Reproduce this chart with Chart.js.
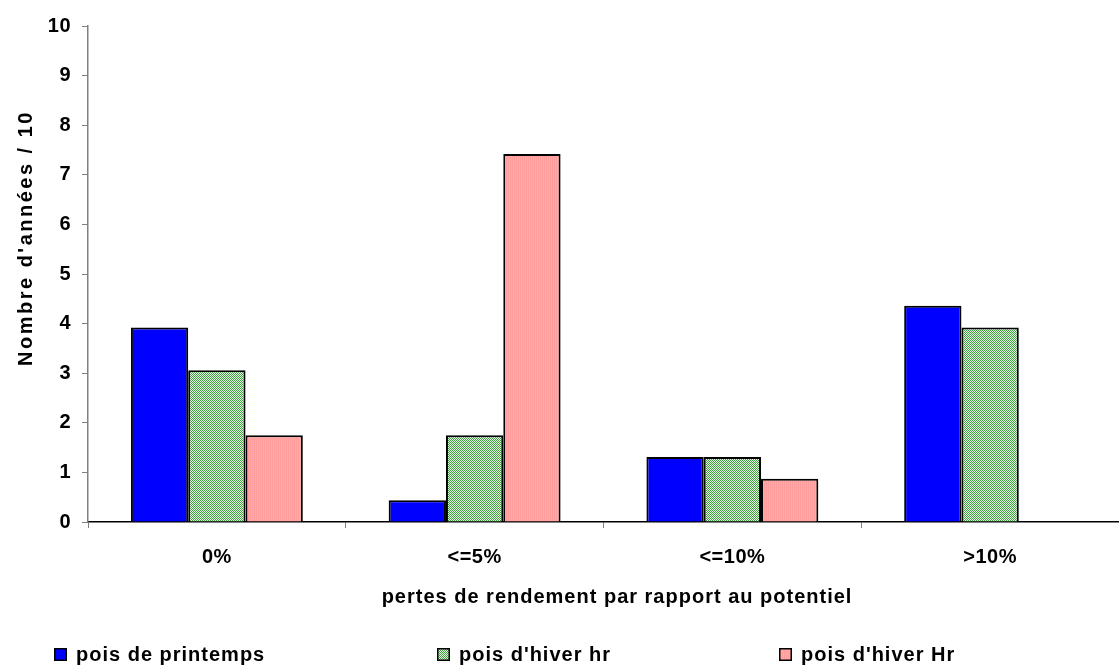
<!DOCTYPE html>
<html>
<head>
<meta charset="utf-8">
<script src="https://cdn.jsdelivr.net/npm/chart.js@4.4.1/dist/chart.umd.min.js"></script>
<style>
  html, body { margin: 0; padding: 0; background: #fff; }
  #wrap { width: 1119px; height: 669px; position: relative; }
</style>
</head>
<body>
<div id="wrap"><canvas id="chart"></canvas></div>
<script>
// data
const categories = ["0%", "<=5%", "<=10%", ">10%"];
const seriesNames = ["pois de printemps", "pois d'hiver hr", "pois d'hiver Hr"];
const printemps = [3.92, 0.44, 1.31, 4.36];
const hiverLow = [3.06, 1.75, 1.31, 3.92];
const hiverHigh = [1.75, 7.42, 0.87, null];
const yMin = 0, yMax = 10, yStep = 1;
const yTitle = "Nombre d'années / 10";
const xTitle = "pertes de rendement par rapport au potentiel";

const FONT = '"Liberation Sans", Arial, sans-serif';
const canvas = document.getElementById("chart");
const ctx = canvas.getContext("2d");

function makePattern(w, h, paint) {
  const c = document.createElement("canvas");
  c.width = w; c.height = h;
  paint(c.getContext("2d"));
  return ctx.createPattern(c, "repeat");
}

// green checker (Excel "50%" pattern)
const greenFill = makePattern(2, 2, g => {
  g.fillStyle = "#e6f7e6"; g.fillRect(0, 0, 2, 2);
  g.fillStyle = "#3f9f3f"; g.fillRect(0, 0, 1, 1); g.fillRect(1, 1, 1, 1);
});
// pink with light vertical stripes
const pinkFill = makePattern(2, 1, g => {
  g.fillStyle = "#ff9c9c"; g.fillRect(0, 0, 1, 1);
  g.fillStyle = "#ffaaaa"; g.fillRect(1, 0, 1, 1);
});

const legendX = [54, 437, 779];

const decor = {
  id: "decor",
  beforeUpdate(chart) { chart.ctx.letterSpacing = "0.5px"; },
  beforeDraw(chart) { chart.ctx.letterSpacing = "0.5px"; },
  afterDraw(chart) {
    const c = chart.ctx;
    const area = chart.chartArea;
    c.save();
    c.fillStyle = "#000";
    c.font = "bold 20px " + FONT;
    c.textBaseline = "middle";

    // x title
    c.letterSpacing = "1px";
    c.textAlign = "center";
    c.fillText(xTitle, area.left + 529, area.bottom + 75);

    // y title
    c.save();
    c.letterSpacing = "2.5px";
    c.translate(26, area.top + 212);
    c.rotate(-Math.PI / 2);
    c.fillText(yTitle, 0, 0);
    c.restore();

    // legend
    c.letterSpacing = "1px";
    c.textAlign = "left";
    chart.data.datasets.forEach((ds, i) => {
      const x = legendX[i];
      const y = 648;
      c.fillStyle = ds.backgroundColor;
      c.fillRect(x, y, 13, 13);
      c.strokeStyle = "#000";
      c.lineWidth = 1.5;
      c.strokeRect(x + 0.75, y + 0.75, 11.5, 11.5);
      c.fillStyle = "#000";
      c.fillText(ds.label, x + 22, y + 7);
    });
    c.restore();
  }
};

new Chart(ctx, {
  type: "bar",
  data: {
    labels: categories,
    datasets: [
      { label: seriesNames[0], data: printemps, backgroundColor: "#0000ff" },
      { label: seriesNames[1], data: hiverLow, backgroundColor: greenFill },
      { label: seriesNames[2], data: hiverHigh, backgroundColor: pinkFill },
    ],
  },
  options: {
    responsive: true,
    maintainAspectRatio: false,
    animation: false,
    layout: { padding: { top: 26, right: 0, bottom: 0, left: 0 } },
    datasets: {
      bar: {
        borderColor: "#000",
        borderWidth: 2,
        categoryPercentage: 0.667,
        barPercentage: 1,
      },
    },
    plugins: {
      legend: { display: false },
      tooltip: { enabled: false },
    },
    scales: {
      x: {
        ticks: {
          color: "#000",
          font: { family: FONT, size: 20, weight: "bold" },
          padding: 17,
          maxRotation: 0,
        },
        grid: {
          drawOnChartArea: false,
          drawTicks: true,
          tickLength: 6,
          color: "#808080",
        },
        border: { color: "#000", width: 1.5 },
        afterFit: s => { s.height = 147; },
      },
      y: {
        min: yMin,
        max: yMax,
        ticks: {
          stepSize: yStep,
          color: "#000",
          font: { family: FONT, size: 20, weight: "bold" },
          padding: 11,
        },
        grid: {
          drawOnChartArea: false,
          drawTicks: true,
          tickLength: 6,
          color: "#808080",
        },
        border: { color: "#808080", width: 1.5 },
        afterFit: s => { s.width = 88; },
      },
    },
  },
  plugins: [decor],
});
</script>
</body>
</html>
